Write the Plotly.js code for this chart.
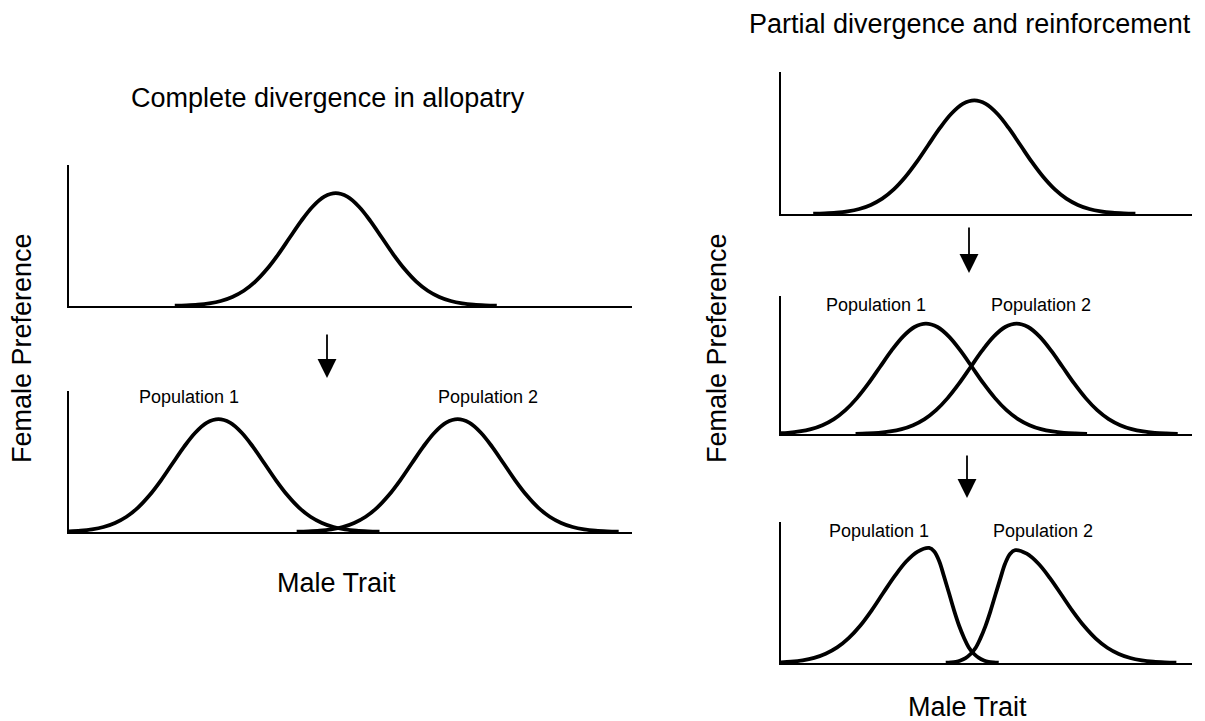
<!DOCTYPE html>
<html>
<head>
<meta charset="utf-8">
<script src="https://cdn.plot.ly/plotly-3.0.1.min.js"></script>
<style>html,body{margin:0;padding:0;background:#fff;}#chart{width:1205px;height:721px;}</style>
</head>
<body>
<div id="chart"></div>
<script>
// ---- Data (x: male trait units, y: relative female preference) ----
// Left column: complete divergence in allopatry
const allopatryBefore_x = [2.3, 2.55, 2.8, 3.05, 3.3, 3.55, 3.8, 4.05, 4.3, 4.55, 4.8, 5.05, 5.3, 5.55, 5.8, 6.05, 6.3, 6.55, 6.8, 7.05, 7.3, 7.55, 7.8, 8.05, 8.3, 8.55, 8.8, 9.05, 9.3];
const allopatryBefore_y = [0.002, 0.005, 0.011, 0.023, 0.044, 0.080, 0.135, 0.216, 0.325, 0.458, 0.607, 0.755, 0.882, 0.969, 1.0, 0.969, 0.882, 0.755, 0.607, 0.458, 0.325, 0.216, 0.135, 0.080, 0.044, 0.023, 0.011, 0.005, 0.002];

const allopatryPop1_x = [0.0, 0.25, 0.5, 0.75, 1.0, 1.25, 1.5, 1.75, 2.0, 2.25, 2.5, 2.75, 3.0, 3.25, 3.5, 3.75, 4.0, 4.25, 4.5, 4.75, 5.0, 5.25, 5.5, 5.75, 6.0, 6.25, 6.5, 6.75];
const allopatryPop1_y = [0.005, 0.011, 0.023, 0.044, 0.080, 0.135, 0.216, 0.325, 0.458, 0.607, 0.755, 0.882, 0.969, 1.0, 0.969, 0.882, 0.755, 0.607, 0.458, 0.325, 0.216, 0.135, 0.080, 0.044, 0.023, 0.011, 0.005, 0.002];
const allopatryPop2_x = [4.95, 5.2, 5.45, 5.7, 5.95, 6.2, 6.45, 6.7, 6.95, 7.2, 7.45, 7.7, 7.95, 8.2, 8.45, 8.7, 8.95, 9.2, 9.45, 9.7, 9.95, 10.2, 10.45, 10.7, 10.95, 11.2, 11.45, 11.7, 11.95];
const allopatryPop2_y = [0.002, 0.005, 0.011, 0.023, 0.044, 0.080, 0.135, 0.216, 0.325, 0.458, 0.607, 0.755, 0.882, 0.969, 1.0, 0.969, 0.882, 0.755, 0.607, 0.458, 0.325, 0.216, 0.135, 0.080, 0.044, 0.023, 0.011, 0.005, 0.002];

// Right column: partial divergence and reinforcement
const partialBefore_x = [0.7, 0.95, 1.2, 1.45, 1.7, 1.95, 2.2, 2.45, 2.7, 2.95, 3.2, 3.45, 3.7, 3.95, 4.2, 4.45, 4.7, 4.95, 5.2, 5.45, 5.7, 5.95, 6.2, 6.45, 6.7, 6.95, 7.2, 7.45, 7.7];
const partialBefore_y = [0.002, 0.005, 0.011, 0.023, 0.044, 0.080, 0.135, 0.216, 0.325, 0.458, 0.607, 0.755, 0.882, 0.969, 1.0, 0.969, 0.882, 0.755, 0.607, 0.458, 0.325, 0.216, 0.135, 0.080, 0.044, 0.023, 0.011, 0.005, 0.002];

const partialPop1_x = [0.0, 0.15, 0.4, 0.65, 0.9, 1.15, 1.4, 1.65, 1.9, 2.15, 2.4, 2.65, 2.9, 3.15, 3.4, 3.65, 3.9, 4.15, 4.4, 4.65, 4.9, 5.15, 5.4, 5.65, 5.9, 6.15, 6.4, 6.65];
const partialPop1_y = [0.007, 0.011, 0.023, 0.044, 0.080, 0.135, 0.216, 0.325, 0.458, 0.607, 0.755, 0.882, 0.969, 1.0, 0.969, 0.882, 0.755, 0.607, 0.458, 0.325, 0.216, 0.135, 0.080, 0.044, 0.023, 0.011, 0.005, 0.002];
const partialPop2_x = [1.62, 1.87, 2.12, 2.37, 2.62, 2.87, 3.12, 3.37, 3.62, 3.87, 4.12, 4.37, 4.62, 4.87, 5.12, 5.37, 5.62, 5.87, 6.12, 6.37, 6.62, 6.87, 7.12, 7.37, 7.62, 7.87, 8.12, 8.37, 8.62];
const partialPop2_y = [0.002, 0.005, 0.011, 0.023, 0.044, 0.080, 0.135, 0.216, 0.325, 0.458, 0.607, 0.755, 0.882, 0.969, 1.0, 0.969, 0.882, 0.755, 0.607, 0.458, 0.325, 0.216, 0.135, 0.080, 0.044, 0.023, 0.011, 0.005, 0.002];

const reinforcedPop1_x = [0.0, 0.22, 0.47, 0.72, 0.97, 1.22, 1.47, 1.72, 1.97, 2.22, 2.47, 2.72, 2.97, 3.22, 3.33, 3.44, 3.54, 3.65, 3.76, 3.87, 3.98, 4.08, 4.19, 4.3, 4.41, 4.51, 4.62, 4.73];
const reinforcedPop1_y = [0.006, 0.011, 0.023, 0.045, 0.082, 0.138, 0.22, 0.33, 0.467, 0.62, 0.77, 0.90, 0.988, 1.02, 0.988, 0.90, 0.77, 0.62, 0.467, 0.33, 0.22, 0.138, 0.082, 0.045, 0.023, 0.011, 0.005, 0.002];
const reinforcedPop2_x = [3.58, 3.69, 3.8, 3.9, 4.01, 4.12, 4.23, 4.33, 4.44, 4.55, 4.66, 4.77, 4.87, 4.98, 5.09, 5.34, 5.59, 5.84, 6.09, 6.34, 6.59, 6.84, 7.09, 7.34, 7.59, 7.84, 8.09, 8.34, 8.59];
const reinforcedPop2_y = [0.002, 0.005, 0.011, 0.023, 0.044, 0.080, 0.135, 0.216, 0.325, 0.458, 0.607, 0.755, 0.882, 0.969, 1.0, 0.969, 0.882, 0.755, 0.607, 0.458, 0.325, 0.216, 0.135, 0.080, 0.044, 0.023, 0.011, 0.005, 0.002];

// ---- Texts ----
const leftTitle = "Complete divergence in allopatry";
const rightTitle = "Partial divergence and reinforcement";
const xLabel = "Male Trait";
const yLabel = "Female Preference";
const popLabels = ["Population 1", "Population 2"];
// label anchor positions in data units of each panel
const popLabelX_left = [2.61, 9.11];
const popLabelY_left = 1.197;
const popLabelX_mid = [2.07, 5.65];
const popLabelY_mid = 1.168;
const popLabelX_bot = [2.13, 5.70];
const popLabelY_bot = 1.17;

// ---- Build ----
const FONT = '"Liberation Sans", Arial, Helvetica, sans-serif';
const W = 1205, H = 721;
const px = v => v / W;
const py = v => 1 - v / H;

function curve(x, y, ax) {
  return {
    x: x, y: y, xaxis: 'x' + ax, yaxis: 'y' + ax,
    type: 'scatter', mode: 'lines', hoverinfo: 'skip', showlegend: false,
    line: {shape: 'spline', smoothing: 1, width: 3.8, color: '#000'}
  };
}

const data = [
  curve(allopatryBefore_x, allopatryBefore_y, ''),
  curve(allopatryPop1_x, allopatryPop1_y, '2'),
  curve(allopatryPop2_x, allopatryPop2_y, '2'),
  curve(partialBefore_x, partialBefore_y, '3'),
  curve(partialPop1_x, partialPop1_y, '4'),
  curve(partialPop2_x, partialPop2_y, '4'),
  curve(reinforcedPop1_x, reinforcedPop1_y, '5'),
  curve(reinforcedPop2_x, reinforcedPop2_y, '5')
];

function xa(domain, range, anchor) {
  return {domain: domain, range: range, anchor: anchor, showline: true, linecolor: '#000', linewidth: 2,
    showgrid: false, zeroline: false, showticklabels: false, ticks: '', fixedrange: true};
}
function ya(domain, anchor) {
  return {domain: domain, range: [0, 1.25], anchor: anchor, showline: true, linecolor: '#000', linewidth: 2,
    showgrid: false, zeroline: false, showticklabels: false, ticks: '', fixedrange: true};
}

const leftX = [px(69), px(632)];
const rightX = [px(781), px(1192)];
const leftRange = [0, 12.24];
const rightRange = [0, 8.93];

function txt(text, x, y, size, extra) {
  return Object.assign({text: text, x: x, y: y, xref: 'paper', yref: 'paper', showarrow: false,
    xanchor: 'center', yanchor: 'middle', font: {family: FONT, size: size, color: '#000'}}, extra || {});
}
function pop(text, x, y, ax) {
  return {text: text, x: x, y: y, xref: 'x' + ax, yref: 'y' + ax, showarrow: false,
    xanchor: 'center', yanchor: 'middle', font: {family: FONT, size: 18, color: '#000'}};
}
function arrow(x, y, ay) {
  return {text: '', x: x, y: y, xref: 'paper', yref: 'paper', showarrow: true, ax: 0, ay: ay,
    arrowhead: 2, arrowsize: 2.1, arrowwidth: 1.8, arrowcolor: '#000', standoff: 0};
}

const annotations = [
  txt(leftTitle, px(328), py(98), 27),
  txt(rightTitle, px(970), py(24), 27),
  txt(xLabel, px(336), py(583), 27),
  txt(xLabel, px(967), py(707), 27),
  txt(yLabel, px(22), py(348), 27, {textangle: -90}),
  txt(yLabel, px(717), py(348), 27, {textangle: -90}),
  pop(popLabels[0], popLabelX_left[0], popLabelY_left, '2'),
  pop(popLabels[1], popLabelX_left[1], popLabelY_left, '2'),
  pop(popLabels[0], popLabelX_mid[0], popLabelY_mid, '4'),
  pop(popLabels[1], popLabelX_mid[1], popLabelY_mid, '4'),
  pop(popLabels[0], popLabelX_bot[0], popLabelY_bot, '5'),
  pop(popLabels[1], popLabelX_bot[1], popLabelY_bot, '5'),
  arrow(px(327), py(378), -45),
  arrow(px(969), py(273), -47),
  arrow(px(967), py(498), -44)
];

const layout = {
  width: W, height: H,
  margin: {l: 0, r: 0, t: 0, b: 0, pad: 0},
  paper_bgcolor: '#fff', plot_bgcolor: '#fff',
  hovermode: false, showlegend: false,
  font: {family: FONT, color: '#000'},
  xaxis: xa(leftX, leftRange, 'y'),
  yaxis: ya([py(306), py(165)], 'x'),
  xaxis2: xa(leftX, leftRange, 'y2'),
  yaxis2: ya([py(532), py(391)], 'x2'),
  xaxis3: xa(rightX, rightRange, 'y3'),
  yaxis3: ya([py(214), py(72)], 'x3'),
  xaxis4: xa(rightX, rightRange, 'y4'),
  yaxis4: ya([py(434), py(296)], 'x4'),
  xaxis5: xa(rightX, rightRange, 'y5'),
  yaxis5: ya([py(663), py(522)], 'x5'),
  annotations: annotations
};

Plotly.newPlot('chart', data, layout, {displayModeBar: false, staticPlot: true});
</script>
</body>
</html>
